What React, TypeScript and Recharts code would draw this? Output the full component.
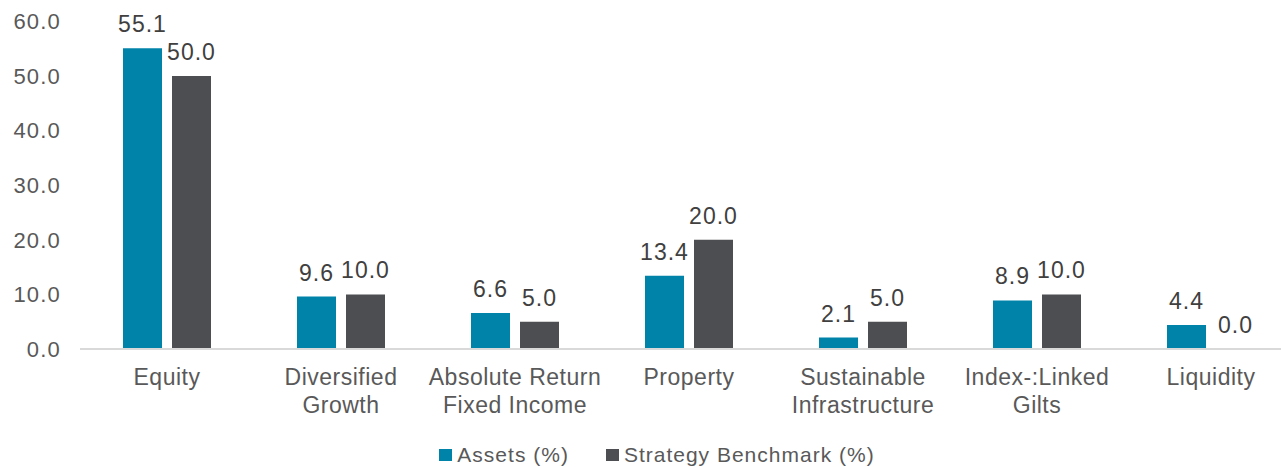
import React from 'react';
import { BarChart, Bar, XAxis, YAxis, Legend, LabelList } from 'recharts';

const categories = [
  'Equity',
  'Diversified\nGrowth',
  'Absolute Return\nFixed Income',
  'Property',
  'Sustainable\nInfrastructure',
  'Index-:Linked\nGilts',
  'Liquidity',
];
const assets = [55.1, 9.6, 6.6, 13.4, 2.1, 8.9, 4.4];
const benchmark = [50.0, 10.0, 5.0, 20.0, 5.0, 10.0, 0.0];
const yTicks = [0, 10, 20, 30, 40, 50, 60];

const seriesNames = ['Assets (%)', 'Strategy Benchmark (%)'];
const TEAL = '#0083a9';
const GREY = '#4d4e52';

const chartData = categories.map((name, i) => ({
  name,
  assets: assets[i],
  benchmark: benchmark[i],
}));

const FONT = '"Liberation Sans", Arial, sans-serif';
const fmt = (v: any) => Number(v).toFixed(1);

const CategoryTick = ({ x, y, payload }: any) => {
  const lines = String(payload.value).split('\n');
  return (
    <text x={x} y={y} textAnchor="middle" fill="#595959" fontSize={23} fontFamily={FONT} style={{ letterSpacing: 0.5 }}>
      {lines.map((line, i) => (
        <tspan key={i} x={x} dy={i === 0 ? 35.5 : 28}>
          {line}
        </tspan>
      ))}
    </text>
  );
};

const ValueTick = ({ x, y, payload }: any) => (
  <text x={x} y={y} dy="0.355em" textAnchor="end" fill="#595959" fontSize={22} fontFamily={FONT} style={{ letterSpacing: 1.2 }}>
    {fmt(payload.value)}
  </text>
);

const renderLegend = () => {
  const colors = [TEAL, GREY];
  return (
    <div
      style={{
        display: 'flex',
        justifyContent: 'center',
        alignItems: 'center',
        height: 24,
        paddingLeft: 8,
        fontFamily: FONT,
        fontSize: 21,
        lineHeight: '24px',
        color: '#595959',
        letterSpacing: 1,
      }}
    >
      {seriesNames.map((n, i) => (
        <div key={n} style={{ display: 'flex', alignItems: 'center', marginRight: i === 0 ? 37 : 0 }}>
          <span style={{ display: 'inline-block', width: 13, height: 12, background: colors[i], marginRight: 5 }} />
          <span>{n}</span>
        </div>
      ))}
    </div>
  );
};

export default function App() {
  return (
    <div style={{ position: 'absolute', top: 8, left: 8, width: 1273, height: 459, overflow: 'hidden' }}>
      <BarChart
        width={1298}
        height={459}
        data={chartData}
        margin={{ top: 13.5, right: 8, bottom: 0, left: 0 }}
        barSize={39}
        barGap={10}
        style={{ fontFamily: FONT }}
      >
        <XAxis
          dataKey="name"
          interval={0}
          height={94}
          tickLine={false}
          tickSize={0}
          tickMargin={0}
          axisLine={{ stroke: '#d9d9d9', strokeWidth: 2 }}
          tick={<CategoryTick />}
        />
        <YAxis
          width={72}
          domain={[0, 60]}
          ticks={yTicks}
          axisLine={false}
          tickLine={false}
          tickMargin={13}
          tick={<ValueTick />}
        />
        <Legend verticalAlign="bottom" height={24} content={renderLegend} />
        <Bar dataKey="assets" name={seriesNames[0]} fill={TEAL} isAnimationActive={false}>
          <LabelList
            dataKey="assets"
            position="top"
            offset={16}
            formatter={fmt}
            fill="#404040"
            fontSize={23}
            fontFamily={FONT}
            style={{ letterSpacing: 1 }}
          />
        </Bar>
        <Bar
          dataKey="benchmark"
          name={seriesNames[1]}
          fill={GREY}
          minPointSize={0.01}
          isAnimationActive={false}
        >
          <LabelList
            dataKey="benchmark"
            position="top"
            offset={16}
            formatter={fmt}
            fill="#404040"
            fontSize={23}
            fontFamily={FONT}
            style={{ letterSpacing: 1 }}
          />
        </Bar>
      </BarChart>
    </div>
  );
}
